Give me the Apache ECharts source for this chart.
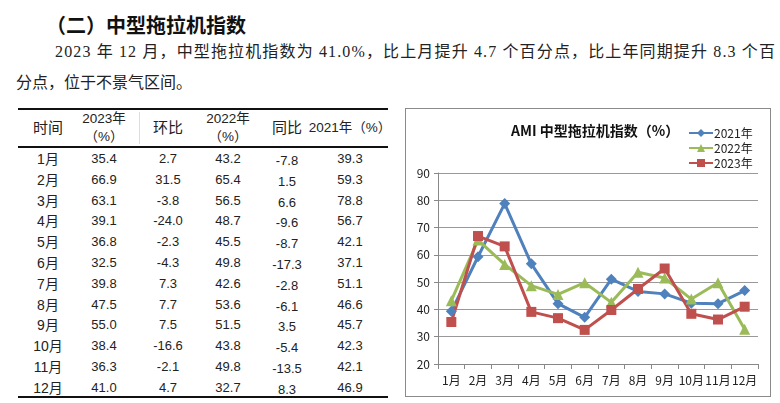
<!DOCTYPE html>
<html><head><meta charset="utf-8">
<script src="https://cdn.jsdelivr.net/npm/echarts@6/dist/echarts.min.js"></script>
<style>
html,body{margin:0;padding:0;background:#fff;width:780px;height:403px;overflow:hidden;position:relative;}
.abs{position:absolute;white-space:nowrap;}
.h{font-family:"Noto Sans CJK SC";font-weight:700;font-size:20px;line-height:28px;color:#111;}
.p{font-family:"Liberation Serif","Noto Sans CJK SC";font-size:16px;line-height:20px;color:#222;}
.c{font-family:"Liberation Sans Narrow","Liberation Sans","Noto Sans CJK SC";font-size:13px;line-height:16px;color:#222;transform:translate(-50%,-50%);text-align:center;}
.ln{position:absolute;background:#111;}
#box{position:absolute;left:405px;top:108px;width:366px;height:289px;box-sizing:border-box;border:1px solid #8a8a8a;}
#chart{position:absolute;left:406px;top:109px;width:364px;height:287px;}
</style></head>
<body>
<div class="abs h" style="left:46px;top:11px;">（二）中型拖拉机指数</div>
<div class="abs p" id="line1" style="left:55px;top:42px;">2023 年 12 月，中型拖拉机指数为 41.0%，比上月提升 4.7 个百分点，比上年同期提升 8.3 个百</div>
<div class="abs p" id="line2" style="left:16px;top:73px;">分点，位于不景气区间。</div>
<div id="table"></div>
<div id="box"></div>
<div id="chart"></div>
<script>
var months = ['1月','2月','3月','4月','5月','6月','7月','8月','9月','10月','11月','12月'];
var idx2023 = [35.4,66.9,63.1,39.1,36.8,32.5,39.8,47.5,55.0,38.4,36.3,41.0];
var mom2023 = [2.7,31.5,-3.8,-24.0,-2.3,-4.3,7.3,7.7,7.5,-16.6,-2.1,4.7];
var idx2022 = [43.2,65.4,56.5,48.7,45.5,49.8,42.6,53.6,51.5,43.8,49.8,32.7];
var yoy = [-7.8,1.5,6.6,-9.6,-8.7,-17.3,-2.8,-6.1,3.5,-5.4,-13.5,8.3];
var idx2021 = [39.3,59.3,78.8,56.7,42.1,37.1,51.1,46.6,45.7,42.3,42.1,46.9];
var headers = ['时间','2023年<br>（%）','环比','2022年<br>（%）','同比','2021年（%）'];
var seriesNames = ['2021年','2022年','2023年'];
var yTicks = [20,30,40,50,60,70,80,90];

// justify line 1
(function(){
  var el = document.getElementById('line1');
  var target = 720;
  var w = el.getBoundingClientRect().width;
  var n = el.textContent.length;
  el.style.letterSpacing = ((target - w) / (n - 1)) + 'px';
})();

// table
(function(){
  var t = document.getElementById('table');
  var colX = [48,104,168,228,287,350];
  var html = '';
  html += '<div class="ln" style="left:18px;top:108px;width:370px;height:2px;"></div>';
  html += '<div class="ln" style="left:18px;top:146px;width:370px;height:2px;"></div>';
  html += '<div class="ln" style="left:18px;top:396px;width:370px;height:2px;"></div>';
  html += '<div class="ln" style="left:139px;top:112px;width:1px;height:32px;background:#ddd;"></div>';
  for (var i=0;i<headers.length;i++){
    var fs = (i===0||i===2||i===4)?'15px':'13.5px';
    html += '<div class="abs c" style="left:'+colX[i]+'px;top:128px;font-size:'+fs+';line-height:18px;">'+headers[i]+'</div>';
  }
  var cols = [months, idx2023, mom2023, idx2022, yoy, idx2021];
  for (var r=0;r<12;r++){
    var y = 159 + r*20.8;
    for (var c=0;c<6;c++){
      var v = cols[c][r];
      var s = (c===0)? v : v.toFixed(1);
      var dy = (c===4)?2:0;
      var fs2 = (c===0)?'14px':'13px';
      html += '<div class="abs c" style="left:'+colX[c]+'px;top:'+(y+dy)+'px;font-size:'+fs2+';">'+s+'</div>';
    }
  }
  t.innerHTML = html;
})();

var chart = echarts.init(document.getElementById('chart'));
var font = '"Noto Sans CJK SC", sans-serif';
chart.setOption({
  animation:false,
  textStyle:{fontFamily:font},
  title:{
    text:'AMI 中型拖拉机指数（%）',
    left:100, top:10,
    textStyle:{fontSize:14,fontWeight:'bold',color:'#111',fontFamily:font}
  },
  legend:{
    orient:'vertical', left:277, top:13, itemGap:3,
    itemWidth:24, itemHeight:10,
    textStyle:{fontSize:12,color:'#222',padding:[0,0,0,-4]},
    data:seriesNames
  },
  grid:{left:32,right:12,top:64,bottom:32,containLabel:false},
  xAxis:{
    type:'category', data:months, boundaryGap:true,
    axisLine:{lineStyle:{color:'#888'}},
    axisTick:{show:true,length:5,lineStyle:{color:'#888'}},
    axisLabel:{fontSize:12,color:'#222',margin:10,interval:0}
  },
  yAxis:{
    type:'value', min:20, max:90, interval:10,
    axisLine:{show:true,lineStyle:{color:'#888'}},
    axisTick:{show:true,length:4,lineStyle:{color:'#888'}},
    axisLabel:{fontSize:12,color:'#222',margin:8},
    splitLine:{lineStyle:{color:'#999',width:1}}
  },
  series:[
    {name:seriesNames[0],type:'line',data:idx2021,symbol:'diamond',symbolSize:11,
     lineStyle:{width:3,color:'#4F81BD'},itemStyle:{color:'#4F81BD'}},
    {name:seriesNames[1],type:'line',data:idx2022,symbol:'triangle',symbolSize:11,
     lineStyle:{width:3,color:'#9BBB59'},itemStyle:{color:'#9BBB59'}},
    {name:seriesNames[2],type:'line',data:idx2023,symbol:'rect',symbolSize:10,
     lineStyle:{width:3,color:'#C0504D'},itemStyle:{color:'#C0504D'}}
  ]
});
</script>
</body></html>
